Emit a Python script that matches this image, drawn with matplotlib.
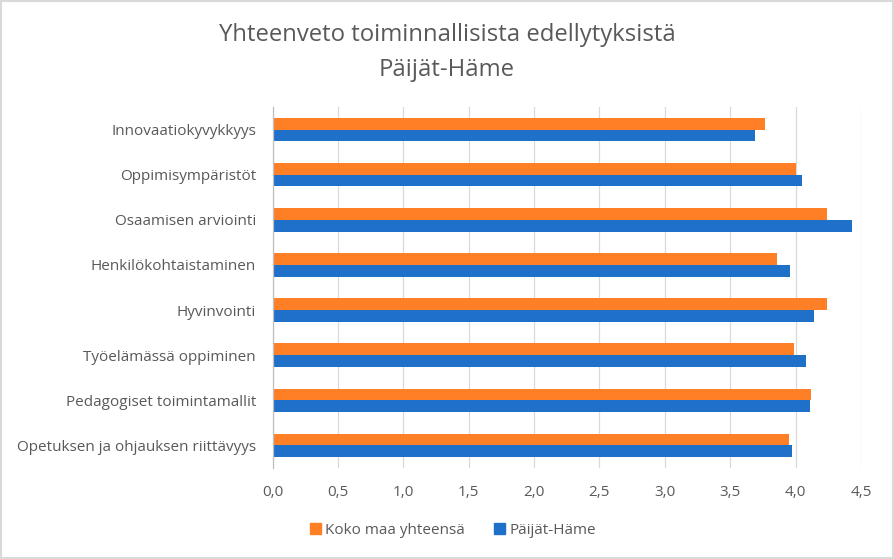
import matplotlib
matplotlib.use("Agg")
import matplotlib.pyplot as plt
import numpy as np
from matplotlib.patches import Rectangle, Patch

categories = [
    "Innovaatiokyvykkyys",
    "Oppimisympäristöt",
    "Osaamisen arviointi",
    "Henkilökohtaistaminen",
    "Hyvinvointi",
    "Työelämässä oppiminen",
    "Pedagogiset toimintamallit",
    "Opetuksen ja ohjauksen riittävyys",
]
koko_maa = [3.77, 4.00, 4.24, 3.86, 4.24, 3.99, 4.12, 3.95]
paijat_hame = [3.69, 4.05, 4.43, 3.96, 4.14, 4.08, 4.11, 3.97]
series_names = ["Koko maa yhteensä", "Päijät-Häme"]
xticks = [0.0, 0.5, 1.0, 1.5, 2.0, 2.5, 3.0, 3.5, 4.0, 4.5]
title = "Yhteenveto toiminnallisista edellytyksistä\nPäijät-Häme"

ORANGE = "#FF7F27"
BLUE = "#1F70C8"
TXT = "#595959"

plt.rcParams['font.family'] = ['Open Sans', 'DejaVu Sans']

fig = plt.figure(figsize=(8.94, 5.59), dpi=100)
ax = fig.add_axes([0.3049, 0.1628, 0.963 - 0.3049, 0.8086 - 0.1628])

y = np.arange(len(categories))
h = 0.26
ax.barh(y - h / 2, koko_maa, height=h, color=ORANGE, label=series_names[0], zorder=3)
ax.barh(y + h / 2, paijat_hame, height=h, color=BLUE, label=series_names[1], zorder=3)

ax.set_xlim(0, 4.5)
ax.set_ylim(len(categories) - 0.5, -0.5)
ax.set_xticks(xticks)
ax.set_xticklabels([f"{v:.1f}".replace(".", ",") for v in xticks])
ax.set_yticks(y)
ax.set_yticklabels(categories)
ax.tick_params(axis='both', length=0, colors=TXT, labelsize=11)
ax.tick_params(axis='x', pad=12)
ax.tick_params(axis='y', pad=12)
ax.grid(axis='x', color="#D9D9D9", linewidth=0.9, zorder=0)
for s in ["top", "right", "bottom"]:
    ax.spines[s].set_visible(False)
ax.spines["left"].set_color("#BFBFBF")
ax.spines["left"].set_linewidth(0.9)
ax.spines["left"].set_zorder(4)

fig.text(0.5, 1 - 52.5 / 559, title, ha="center", va="center", fontsize=17.2,
         color=TXT, linespacing=1.6)

handles = [Patch(color=ORANGE), Patch(color=BLUE)]
fig.legend(handles, series_names, loc="center", bbox_to_anchor=(453 / 894, 1 - 530 / 559),
           ncol=2, frameon=False, fontsize=11, labelcolor=TXT, handlelength=0.7,
           handleheight=0.7, handletextpad=0.3, columnspacing=1.9)

fig.patches.append(Rectangle((0.001, 0.001), 0.998, 0.998, transform=fig.transFigure,
                             fill=False, edgecolor="#D9D9D9", linewidth=1.5))

fig.savefig("out.png", dpi=100)
